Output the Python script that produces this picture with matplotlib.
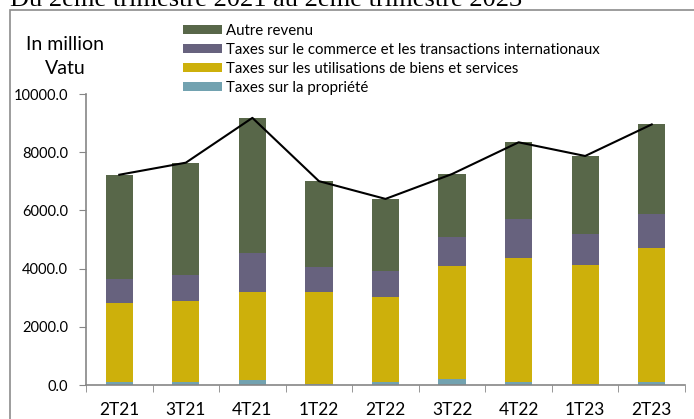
import matplotlib
matplotlib.use("Agg")
import matplotlib.pyplot as plt
from matplotlib.patches import Rectangle
import numpy as np

categories = ["2T21", "3T21", "4T21", "1T22", "2T22", "3T22", "4T22", "1T23", "2T23"]
propriete = [115, 115, 160, 45, 110, 210, 110, 45, 115]
biens_services = [2690, 2770, 3050, 3160, 2915, 3890, 4255, 4090, 4595]
commerce = [825, 895, 1340, 835, 895, 985, 1330, 1055, 1180]
autre = [3595, 3860, 4630, 2965, 2475, 2165, 2645, 2680, 3065]
yticks = [0, 2000, 4000, 6000, 8000, 10000]

names = ["Taxes sur la propriété", "Taxes sur les utilisations de biens et services",
         "Taxes sur le commerce et les transactions internationaux", "Autre revenu"]
colors = ["#72A2B0", "#CDB00B", "#67627E", "#586749"]

W, H = 694, 419
fig = plt.figure(figsize=(W / 100, H / 100), dpi=100)
font = ["Lato", "DejaVu Sans"]
plt.rcParams["font.family"] = font

# frame
fig.patches.append(Rectangle((10 / W, -0.1), 1.2, (1 - 10 / H) + 0.1, transform=fig.transFigure,
                             fill=False, edgecolor="#8C8C8C", linewidth=1.2))
fig.text(10 / W, 1 - 6 / H, "Du 2ème trimestre 2021 au 2ème trimestre 2023",
         family="Liberation Serif", fontsize=19, ha="left", va="baseline")

ax = fig.add_axes([86 / W, 1 - 385 / H, (685 - 86) / W, (385 - 94) / H])
x = np.arange(len(categories))
series = [propriete, biens_services, commerce, autre]
bottom = np.zeros(len(categories))
handles = []
for vals, c, n in zip(series, colors, names):
    b = ax.bar(x, vals, width=0.41, bottom=bottom, color=c, label=n, zorder=2)
    handles.append(b)
    bottom += np.array(vals)
ax.plot(x, bottom, color="black", linewidth=1.5, zorder=3)

ax.set_xlim(-0.5, len(categories) - 0.5)
ax.set_ylim(0, 10000)
ax.set_yticks(yticks)
ax.set_yticklabels([f"{v:.1f}" for v in yticks], fontsize=10.5)
ax.set_xticks(x)
ax.set_xticklabels(categories, fontsize=12.5)
ax.set_xticks(np.arange(-0.5, len(categories)), minor=True)
ax.tick_params(axis="x", which="major", length=0, pad=12)
ax.tick_params(axis="x", which="minor", length=5, color="#868686")
ax.tick_params(axis="y", length=5, color="#868686", pad=8)
for s in ["top", "right"]:
    ax.spines[s].set_visible(False)
for s in ["left", "bottom"]:
    ax.spines[s].set_color("#868686")
    ax.spines[s].set_linewidth(1.2)

fig.text(65 / W, 1 - 44 / H, "In million", fontsize=14, ha="center", va="center")
fig.text(65 / W, 1 - 69 / H, "Vatu", fontsize=14, ha="center", va="center")

fig.legend(handles[::-1], names[::-1], loc="upper left", bbox_to_anchor=(183 / W, 1 - 24 / H),
           frameon=False, fontsize=10.8, handlelength=2.6, handleheight=0.55,
           handletextpad=0.3, labelspacing=0.33, borderpad=0, borderaxespad=0)

fig.savefig("out.png", dpi=100)
